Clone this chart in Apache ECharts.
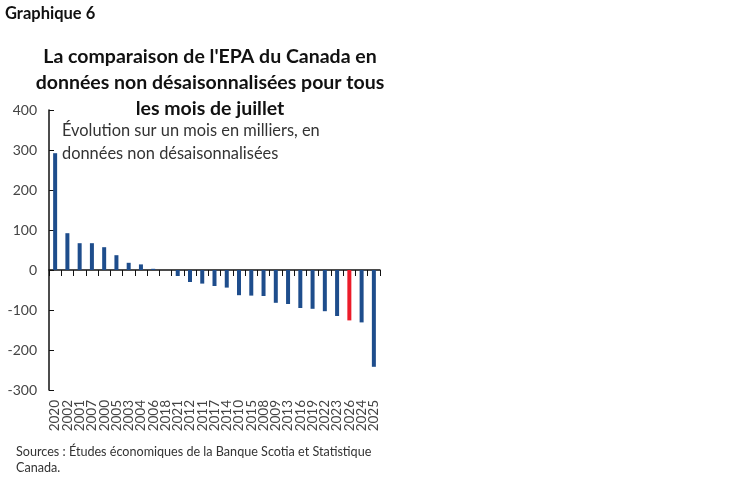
<!DOCTYPE html>
<html><head><meta charset="utf-8">
<script src="https://cdn.jsdelivr.net/npm/echarts@6/dist/echarts.min.js"></script>
<style>html,body{margin:0;padding:0;background:#fff}#c{width:749px;height:482px}</style>
</head><body><div id="c"></div>
<script>
const years = ['2020','2002','2001','2007','2000','2005','2003','2004','2006','2018','2021','2012','2011','2017','2014','2010','2015','2008','2009','2013','2016','2019','2022','2023','2026','2024','2025'];
const values = [292,92,67,67,57,37,18,14,3,0,-15,-30,-34,-40,-44,-63,-64,-65,-82,-85,-95,-97,-103,-115,-126,-131,-242];
const highlightYear = '2026';
const yTicks = [-300,-200,-100,0,100,200,300,400];

const chart = echarts.init(document.getElementById('c'));
const font = 'Lato, "Open Sans", sans-serif';
chart.setOption({
  animation:false,
  textStyle:{fontFamily:font},
  title:{
    text:"La comparaison de l'EPA du Canada en\ndonnées non désaisonnalisées pour tous\nles mois de juillet",
    left:205, top:39, textAlign:'center',
    textStyle:{fontFamily:font,fontSize:19.5,fontWeight:'bold',color:'#111',lineHeight:26}
  },
  graphic:[
    {type:'text',left:5,top:5,style:{text:'Graphique 6',font:'bold 16.5px '+font,fill:'#111'}},
    {type:'text',left:62,top:119,style:{text:'Évolution sur un mois en milliers, en\ndonnées non désaisonnalisées',font:'16.4px '+font,fill:'#333',lineHeight:23}},
    {type:'text',left:16,top:444,style:{text:'Sources : Études économiques de la Banque Scotia et Statistique\nCanada.',font:'12.6px '+font,fill:'#333',lineHeight:16}}
  ],
  grid:{left:49,right:369,top:110,bottom:92},
  xAxis:{
    type:'category', data:years,
    axisLine:{lineStyle:{color:'#111',width:1.5}},
    axisTick:{show:true,inside:false,length:6,lineStyle:{color:'#111'}},
    axisLabel:{rotate:90,fontSize:13.5,color:'#444',margin:10,interval:0,fontFamily:font}
  },
  yAxis:{
    type:'value', min:-300, max:400, interval:100,
    axisLine:{show:true,lineStyle:{color:'#111',width:1.5}},
    axisTick:{show:true,inside:true,length:5,lineStyle:{color:'#111'}},
    splitLine:{show:false},
    axisLabel:{fontSize:14,color:'#444',margin:12,fontFamily:font,
      formatter:v=>yTicks.includes(v)?String(v):''}
  },
  series:[{
    type:'bar', barWidth:4,
    data:values.map((v,i)=>({value:v,itemStyle:{color:years[i]===highlightYear?'#ec1c2a':'#1e4d8c'}}))
  }]
});
</script></body></html>
